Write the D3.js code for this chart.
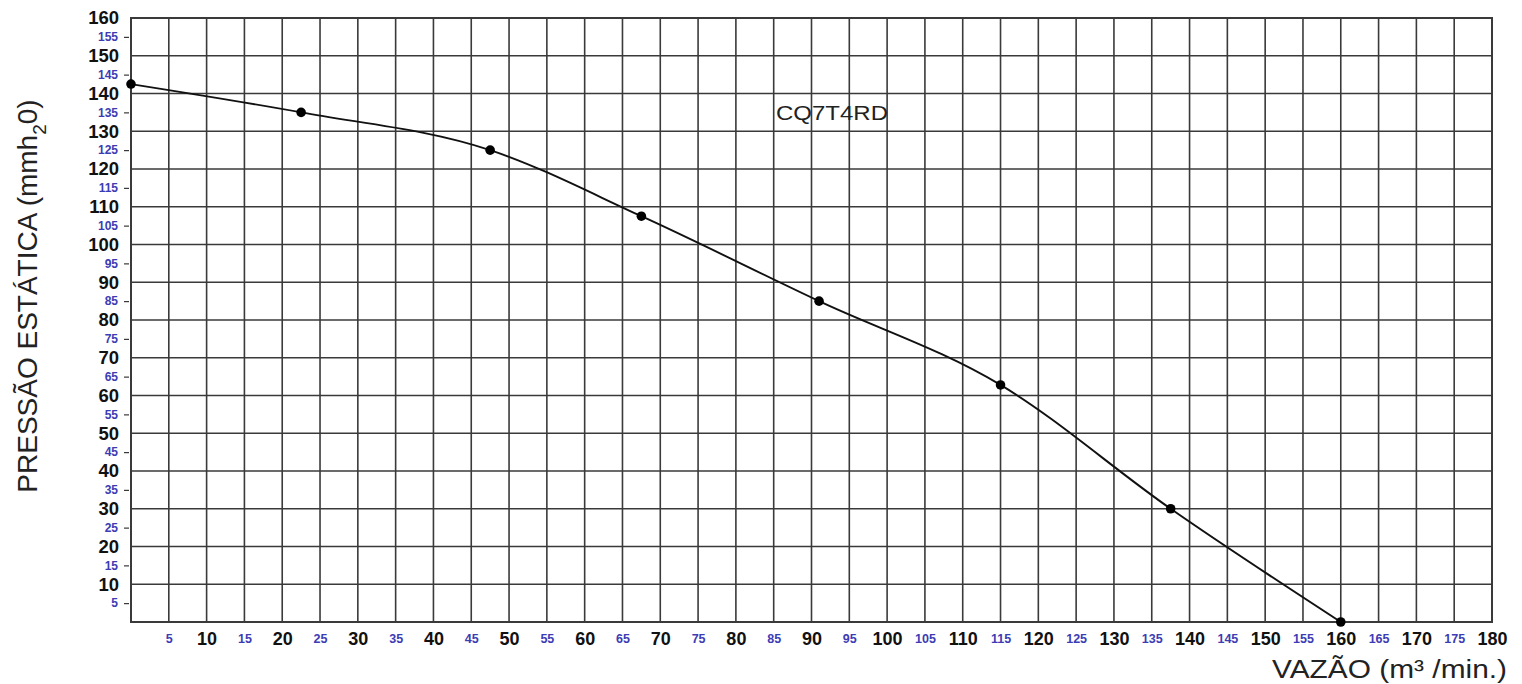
<!DOCTYPE html>
<html><head><meta charset="utf-8">
<script src="https://cdn.jsdelivr.net/npm/d3@7"></script>
<style>body{margin:0;background:#fff;} svg{display:block;font-family:"Liberation Sans",Arial,sans-serif;}</style>
</head><body><svg id="c" width="1522" height="684"></svg>
<script>
const flow = [0, 22.5, 47.5, 67.5, 91, 115, 137.5, 160];
const pressure = [142.5, 135, 125, 107.5, 85, 62.8, 30, 0];
const xTicks = d3.range(5, 181, 5);
const yTicks = d3.range(5, 161, 5);
const curveLabel = "CQ7T4RD";
const xTitle = "VAZÃO (m³ /min.)";

const svg = d3.select("#c");
const m = {l:131, t:18, r:1492, b:622};
const x = d3.scaleLinear().domain([0,180]).range([m.l, m.r]);
const y = d3.scaleLinear().domain([0,160]).range([m.b, m.t]);
const gridC = "#3a3a3a", blue = "#3c3cb4";

// vertical grid every 5
svg.append("g").selectAll("line").data(d3.range(5,180,5)).join("line")
  .attr("x1", d=>x(d)).attr("x2", d=>x(d)).attr("y1", m.t).attr("y2", m.b)
  .attr("stroke", gridC).attr("stroke-width", 1.6);
// horizontal grid every 10
svg.append("g").selectAll("line").data(d3.range(10,160,10)).join("line")
  .attr("y1", d=>y(d)).attr("y2", d=>y(d)).attr("x1", m.l).attr("x2", m.r)
  .attr("stroke", gridC).attr("stroke-width", 1.6);
svg.append("rect").attr("x", m.l).attr("y", m.t).attr("width", m.r-m.l).attr("height", m.b-m.t)
  .attr("fill","none").attr("stroke", gridC).attr("stroke-width", 2);

// y axis
const yAxis = d3.axisLeft(y).tickValues(yTicks).tickSize(0).tickPadding(6).tickFormat(d3.format("d"));
const gy = svg.append("g").attr("transform", `translate(${m.l},0)`).call(yAxis);
gy.select(".domain").remove();
gy.selectAll(".tick").each(function(d){
  const major = d % 10 === 0;
  const t = d3.select(this);
  t.select("text").attr("font-weight","bold")
    .attr("font-size", major ? 18.5 : 12)
    .attr("fill", major ? "#111" : blue)
    .attr("x", major ? -12 : -13);
  if (!major) t.append("line").attr("x1",-7).attr("x2",-2).attr("stroke",gridC).attr("stroke-width",1.2);
});

// x axis
const xAxis = d3.axisBottom(x).tickValues(xTicks).tickSize(0).tickPadding(6).tickFormat(d3.format("d"));
const gx = svg.append("g").attr("transform", `translate(0,${m.b})`).call(xAxis);
gx.select(".domain").remove();
gx.selectAll(".tick text").each(function(d){
  const major = d % 10 === 0;
  d3.select(this).attr("font-weight","bold")
    .attr("font-size", major ? 18 : 12.5)
    .attr("fill", major ? "#111" : blue)
    .attr("dy", major ? "0.71em" : "0.85em")
    .attr("y", 10);
});

// curve
const pts = flow.map((f,i)=>[f, pressure[i]]);
svg.append("path").datum(pts)
  .attr("d", d3.line().x(d=>x(d[0])).y(d=>y(d[1])).curve(d3.curveMonotoneX))
  .attr("fill","none").attr("stroke","#111").attr("stroke-width",1.9);
svg.append("g").selectAll("circle").data(pts).join("circle")
  .attr("cx", d=>x(d[0])).attr("cy", d=>y(d[1])).attr("r", 4.8).attr("fill","#000");

svg.append("text").attr("x", 776).attr("y", 120)
  .attr("font-size", 21).attr("fill","#222")
  .attr("textLength", 112).attr("lengthAdjust","spacingAndGlyphs").text(curveLabel);

// axis titles
svg.append("text").attr("x", 1272).attr("y", 678)
  .attr("font-size", 25).attr("fill","#222")
  .attr("textLength", 235).attr("lengthAdjust","spacingAndGlyphs").text(xTitle);
const yt = svg.append("text").attr("transform","translate(37,296) rotate(-90)")
  .attr("text-anchor","middle").attr("font-size", 28).attr("fill","#222");
yt.append("tspan").text("PRESSÃO ESTÁTICA (mmh");
yt.append("tspan").attr("font-size",19).attr("dy", 9).text("2");
yt.append("tspan").attr("dy", -9).text("0)");
</script></body></html>
